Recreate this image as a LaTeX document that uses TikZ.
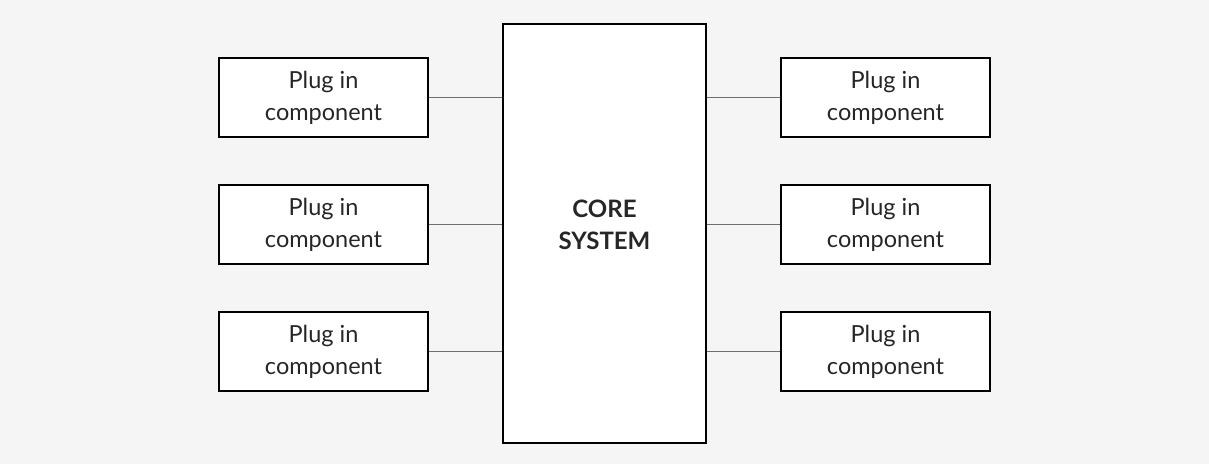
\documentclass[tikz,border=0pt]{standalone}
\usepackage{fontspec}
\setmainfont{Lato}
\usetikzlibrary{positioning}
\definecolor{bggray}{HTML}{F5F5F5}
\definecolor{txtgray}{HTML}{262626}
\definecolor{linegray}{HTML}{6E6E6E}
\tikzset{
  plugbox/.style={draw=black,line width=1.3pt,fill=white,minimum width=209pt,minimum height=79pt,
    align=center,text=txtgray,font=\fontsize{23.5}{32}\selectfont},
  corebox/.style={draw=black,line width=1.3pt,fill=white,minimum width=203pt,minimum height=419pt},
  coretext/.style={align=center,text=txtgray,font=\fontsize{24}{32}\selectfont\bfseries},
  link/.style={draw=linegray,line width=1.6pt}
}
\begin{document}
\begin{tikzpicture}[x=1pt,y=-1pt]
            \def\xl{323.5}\def\xr{885.5}
            \fill[bggray] (0,0) rectangle (1209,464);
            \node[corebox] (core) at (604.5,233.5) {};
            \node[coretext] (corename) at ([yshift=9pt]core.center) {CORE\\SYSTEM};
            \foreach \i/\y in {1/97.5,2/224.5,3/351.5}{
                \node[plugbox] (plugL\i) at (\xl,\y) {Plug in\\component};
                \node[plugbox] (plugR\i) at (\xr,\y) {Plug in\\component};
                \draw[link] (plugL\i.east) -- (plugL\i.east -| core.west);
                \draw[link] (plugR\i.west) -- (plugR\i.west -| core.east);
            }
\end{tikzpicture}
\end{document}
